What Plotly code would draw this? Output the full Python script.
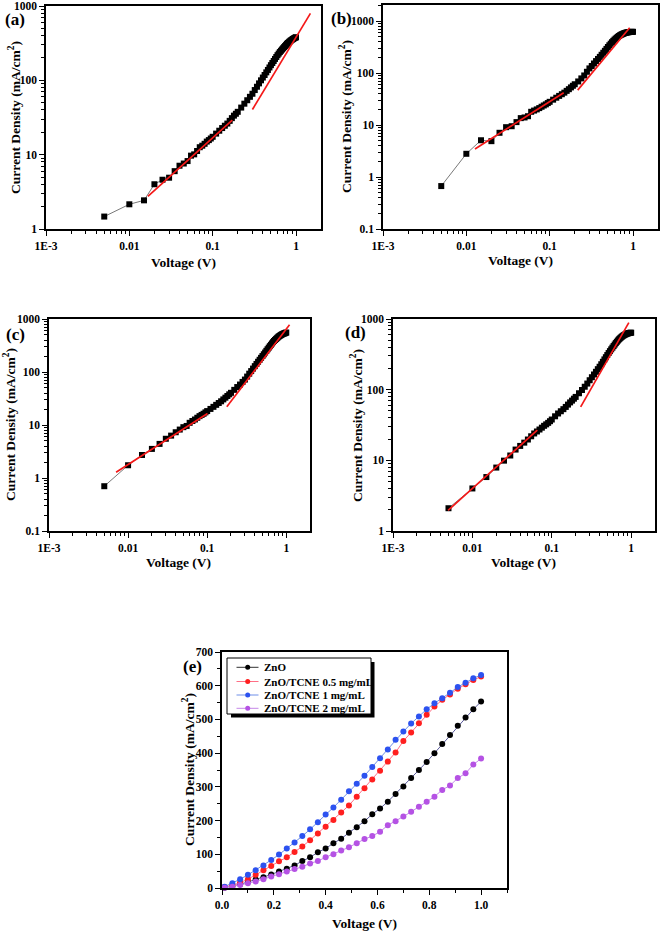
import plotly.graph_objects as go

W, H = 661, 932
FONT = "Liberation Serif"

# ---------------- log panels data (Voltage V, Current density mA/cm2) ----------------
V_LOG = [0.005, 0.01, 0.015, 0.02, 0.025, 0.03, 0.035, 0.04, 0.045, 0.05,
         0.055, 0.06, 0.065, 0.07, 0.075, 0.08, 0.085, 0.09, 0.095, 0.1,
         0.11, 0.12, 0.13, 0.14, 0.15, 0.16, 0.17, 0.18, 0.19, 0.2,
         0.22, 0.24, 0.26, 0.28, 0.30, 0.32, 0.34, 0.36, 0.38, 0.40,
         0.42, 0.44, 0.46, 0.48, 0.50, 0.52, 0.54, 0.56, 0.58, 0.60,
         0.62, 0.64, 0.66, 0.68, 0.70, 0.72, 0.74, 0.76, 0.78, 0.80,
         0.82, 0.84, 0.86, 0.88, 0.90, 0.92, 0.94, 0.96, 0.98, 1.00]

J_A = [1.47, 2.15, 2.43, 4.0, 4.6, 4.9, 6.0, 7.1, 7.6, 8.2,
       9.7, 10.1, 11.2, 12.6, 13.2, 14.0, 15.0, 15.7, 16.5, 17.4,
       19.2, 21.0, 22.8, 24.5, 26.2, 28.5, 31.0, 33.5, 35.5, 37.7,
       43, 48.5, 54, 60, 66, 74, 82, 91, 100, 109,
       118, 128, 138, 149, 160, 171, 182, 194, 206, 218,
       229, 240, 250, 260, 270, 280, 290, 300, 310, 318,
       326, 334, 341, 348, 354, 360, 366, 371, 376, 380]

J_B = [0.67, 2.8, 5.1, 4.9, 7.1, 9.1, 9.5, 11.4, 13.6, 14.0,
       14.8, 18.0, 19.0, 20.0, 21.2, 22.5, 23.8, 25.0, 26.5, 28.0,
       30.8, 33.6, 36.4, 39.2, 42.0, 45.5, 49, 53, 57, 61,
       69, 79, 90, 106, 123, 137, 153, 170, 187, 205,
       225, 246, 268, 292, 318, 343, 368, 393, 417, 440,
       461, 481, 500, 518, 535, 548, 560, 571, 581, 590,
       597, 603, 608, 612, 615, 617, 619, 620, 621, 622]

J_C = [0.7, 1.74, 2.72, 3.54, 4.4, 5.5, 6.3, 7.3, 8.2, 9.1,
       9.6, 11.0, 11.9, 12.7, 13.7, 14.7, 15.5, 16.3, 17.3, 18.3,
       20.1, 22.0, 24.0, 26.0, 28.0, 30.4, 32.8, 35.3, 37.9, 40.5,
       46, 52, 58, 65, 72, 82, 93, 104, 116, 129,
       142, 156, 170, 185, 200, 216, 233, 251, 269, 288,
       307, 326, 346, 366, 385, 402, 418, 434, 450, 465,
       478, 490, 501, 511, 520, 528, 535, 541, 548, 555]

J_D = [2.1, 4.0, 5.8, 7.9, 9.9, 11.7, 14.2, 16.0, 17.8, 19.7,
       21.9, 24.0, 25.6, 27.3, 29.0, 30.8, 32.3, 33.9, 35.8, 37.8,
       42, 46, 49.5, 53, 57, 61.5, 66, 70, 74.5, 79,
       89, 99, 110, 122, 136, 150, 164, 179, 195, 211,
       229, 248, 268, 288, 309, 330, 351, 372, 393, 414,
       435, 456, 476, 496, 515, 531, 546, 560, 573, 585,
       595, 604, 611, 618, 624, 629, 633, 636, 638, 640]

# linear fit segments (two per panel): x endpoints, y endpoints
FIT_A_X = [[0.0167, 0.172], [0.30, 1.49]]
FIT_A_Y = [[2.75, 29.1], [40.5, 795]]
FIT_B_X = [[0.0127, 0.1475], [0.217, 0.912]]
FIT_B_Y = [[3.45, 42], [47, 745]]
FIT_C_X = [[0.00705, 0.101], [0.177, 1.10]]
FIT_C_Y = [[1.28, 16.5], [22, 776]]
FIT_D_X = [[0.00494, 0.0657], [0.231, 0.934]]
FIT_D_Y = [[1.96, 26.7], [57, 887]]

# ---------------- panel (e) data ----------------
V_E = [0.01, 0.04, 0.07, 0.10, 0.13, 0.16, 0.19, 0.22, 0.25, 0.28,
       0.31, 0.34, 0.37, 0.40, 0.43, 0.46, 0.49, 0.52, 0.55, 0.58,
       0.61, 0.64, 0.67, 0.70, 0.73, 0.76, 0.79, 0.82, 0.85, 0.88,
       0.91, 0.94, 0.97, 1.00]
J_ZNO = [1, 5, 11, 18, 25, 32, 40, 49, 57, 67,
         80, 91, 106, 117, 133, 146, 164, 180, 198, 219,
         236, 256, 279, 301, 326, 350, 374, 400, 427, 454,
         481, 506, 530, 553]
J_05 = [3, 8, 16, 26, 39, 53, 65, 79, 91, 107,
        123, 142, 162, 182, 202, 224, 245, 271, 296, 322,
        348, 375, 402, 436, 461, 489, 514, 538, 558, 574,
        591, 604, 617, 627]
J_1 = [4, 14, 26, 39, 53, 67, 83, 99, 117, 135,
       154, 174, 195, 218, 239, 262, 287, 309, 333, 359,
       385, 411, 440, 464, 488, 509, 530, 548, 563, 579,
       596, 609, 622, 632]
J_2 = [1, 4, 9, 14, 19, 26, 34, 41, 49, 56,
       63, 73, 80, 91, 100, 111, 121, 133, 145, 154,
       167, 186, 198, 212, 226, 241, 256, 271, 291, 304,
       326, 340, 366, 384]

SERIES_E = ["ZnO", "ZnO/TCNE 0.5 mg/mL", "ZnO/TCNE 1 mg/mL", "ZnO/TCNE 2 mg/mL"]
MARK_COL = ["#000000", "#ff1f1f", "#2c52f0", "#b552e4"]
LINE_COL = ["#5b5b9c", "#ff6f86", "#6f8fe8", "#c587e8"]

# ---------------- geometry (pixels) ----------------
PANELS = {
    "a": dict(x=(46, 321), y=(6, 229), yr=[0, 3]),
    "b": dict(x=(383, 658), y=(5, 229), yr=[-1, 3.31]),
    "c": dict(x=(49, 310), y=(319, 531), yr=[-1, 3]),
    "d": dict(x=(393, 655), y=(319, 531), yr=[0, 3]),
}
E_BOX = dict(x=(222, 507), y=(652, 888))


def px(x):
    return x / W


def py(y):
    return 1 - y / H


fig = go.Figure()
tickfont = dict(family=FONT, size=11.5, color="black", weight="bold")

logdata = {"a": (J_A, FIT_A_X, FIT_A_Y), "b": (J_B, FIT_B_X, FIT_B_Y),
           "c": (J_C, FIT_C_X, FIT_C_Y), "d": (J_D, FIT_D_X, FIT_D_Y)}

layout_axes = {}
for i, (key, g) in enumerate(PANELS.items(), start=1):
    xa = "x" if i == 1 else f"x{i}"
    ya = "y" if i == 1 else f"y{i}"
    J, FX, FY = logdata[key]
    fig.add_trace(go.Scatter(x=V_LOG, y=J, mode="lines+markers", xaxis=xa, yaxis=ya,
                             line=dict(color="#555555", width=0.8),
                             marker=dict(symbol="square", size=6, color="black"),
                             showlegend=False, cliponaxis=False))
    for fx, fy in zip(FX, FY):
        fig.add_trace(go.Scatter(x=fx, y=fy, mode="lines", xaxis=xa, yaxis=ya,
                                 line=dict(color="#f41818", width=1.7), showlegend=False))
    axcommon = dict(showline=True, linecolor="black", linewidth=1.5, mirror=True,
                    ticks="outside", ticklen=5, tickwidth=1.2, tickcolor="black",
                    showgrid=False, zeroline=False, tickfont=tickfont,
                    exponentformat="none", automargin=False,
                    minor=dict(ticks="outside", ticklen=3, tickwidth=1, tickcolor="black",
                               dtick="D1", showgrid=False))
    xname = "xaxis" if i == 1 else f"xaxis{i}"
    yname = "yaxis" if i == 1 else f"yaxis{i}"
    layout_axes[xname] = dict(type="log", range=[-3, 0.3], dtick=1,
                              domain=[px(g["x"][0]), px(g["x"][1])], anchor=ya,
                              labelalias={"0.001": "1E-3"}, **axcommon)
    layout_axes[yname] = dict(type="log", range=g["yr"], dtick=1,
                              domain=[py(g["y"][1]), py(g["y"][0])], anchor=xa, **axcommon)

# panel (e)
for name, J, mc, lc in zip(SERIES_E, [J_ZNO, J_05, J_1, J_2], MARK_COL, LINE_COL):
    fig.add_trace(go.Scatter(x=V_E, y=J, mode="lines+markers", name=name,
                             xaxis="x5", yaxis="y5",
                             line=dict(color=lc, width=1),
                             marker=dict(symbol="circle", size=6, color=mc),
                             showlegend=False, cliponaxis=False))

lin_common = dict(showline=True, linecolor="black", linewidth=1.5, mirror=True,
                  ticks="outside", ticklen=5, tickwidth=1.2, tickcolor="black",
                  showgrid=False, zeroline=False, tickfont=tickfont, automargin=False)
layout_axes["xaxis5"] = dict(range=[0, 1.1], dtick=0.2, tickformat=".1f",
                             domain=[px(E_BOX["x"][0]), px(E_BOX["x"][1])], anchor="y5",
                             minor=dict(ticks="outside", ticklen=3, dtick=0.1, tickcolor="black"),
                             **lin_common)
layout_axes["yaxis5"] = dict(range=[0, 700], dtick=100,
                             domain=[py(E_BOX["y"][1]), py(E_BOX["y"][0])], anchor="x5",
                             minor=dict(ticks="outside", ticklen=3, dtick=50, tickcolor="black"),
                             **lin_common)

# ---------------- annotations ----------------
ann = []
labfont = dict(family=FONT, size=17, color="black", weight="bold")
ytfont = dict(family=FONT, size=13.5, color="black", weight="bold")
xtfont = dict(family=FONT, size=13.5, color="black", weight="bold")

PANEL_LABELS = [("(a)", 15, 20), ("(b)", 342, 18), ("(c)", 15, 334), ("(d)", 355, 332), ("(e)", 192, 666)]
for t, x, y in PANEL_LABELS:
    ann.append(dict(text=t, x=px(x), y=py(y), xref="paper", yref="paper", showarrow=False,
                    font=labfont, xanchor="center", yanchor="middle"))

YTITLE = "Current Density (mA/cm<sup>2</sup>)"
XTITLE = "Voltage (V)"
YT_POS = [(14, 118), (345, 117), (10, 425), (357, 425), (188, 770)]
XT_POS = [(183, 262), (520, 260), (178, 562), (523, 562), (364, 923)]
for (x, y) in YT_POS:
    ann.append(dict(text=YTITLE, x=px(x), y=py(y), xref="paper", yref="paper", showarrow=False,
                    font=ytfont, textangle=-90, xanchor="center", yanchor="middle"))
for (x, y) in XT_POS:
    ann.append(dict(text=XTITLE, x=px(x), y=py(y), xref="paper", yref="paper", showarrow=False,
                    font=xtfont, xanchor="center", yanchor="middle"))

# ---------------- custom legend for (e) ----------------
shapes = []
LEG = dict(x0=227, x1=371, y0=658, y1=714)
shapes.append(dict(type="rect", xref="paper", yref="paper",
                   x0=px(LEG["x0"] + 4), x1=px(LEG["x1"] + 3.5), y0=py(LEG["y1"] + 3.5), y1=py(LEG["y0"] + 4),
                   fillcolor="black", line=dict(width=0), layer="above"))
shapes.append(dict(type="rect", xref="paper", yref="paper",
                   x0=px(LEG["x0"]), x1=px(LEG["x1"]), y0=py(LEG["y1"]), y1=py(LEG["y0"]),
                   fillcolor="white", line=dict(color="black", width=1), layer="above"))
ROWS = [667.3, 681.5, 695, 708.3]
legfont = dict(family=FONT, size=11, color="black", weight="bold")
for name, mc, lc, yy in zip(SERIES_E, MARK_COL, LINE_COL, ROWS):
    shapes.append(dict(type="line", xref="paper", yref="paper", x0=px(236.5), x1=px(258.5),
                       y0=py(yy), y1=py(yy), line=dict(color=lc if mc != "#000000" else "#333333", width=1),
                       layer="above"))
    shapes.append(dict(type="circle", xref="paper", yref="paper", x0=px(245.2), x1=px(250.2),
                       y0=py(yy + 2.5), y1=py(yy - 2.5), fillcolor=mc, line=dict(width=0), layer="above"))
    ann.append(dict(text=name, x=px(261.5), y=py(yy), xref="paper", yref="paper", showarrow=False,
                    font=legfont, xanchor="left", yanchor="middle"))

fig.update_layout(width=W, height=H, margin=dict(l=0, r=0, t=0, b=0, autoexpand=False),
                  paper_bgcolor="white", plot_bgcolor="white",
                  showlegend=False, annotations=ann, shapes=shapes, **layout_axes)

fig.write_html("out.html", config={"displayModeBar": False},
               post_script="document.body.style.margin='0px';document.body.style.overflow='hidden';")
